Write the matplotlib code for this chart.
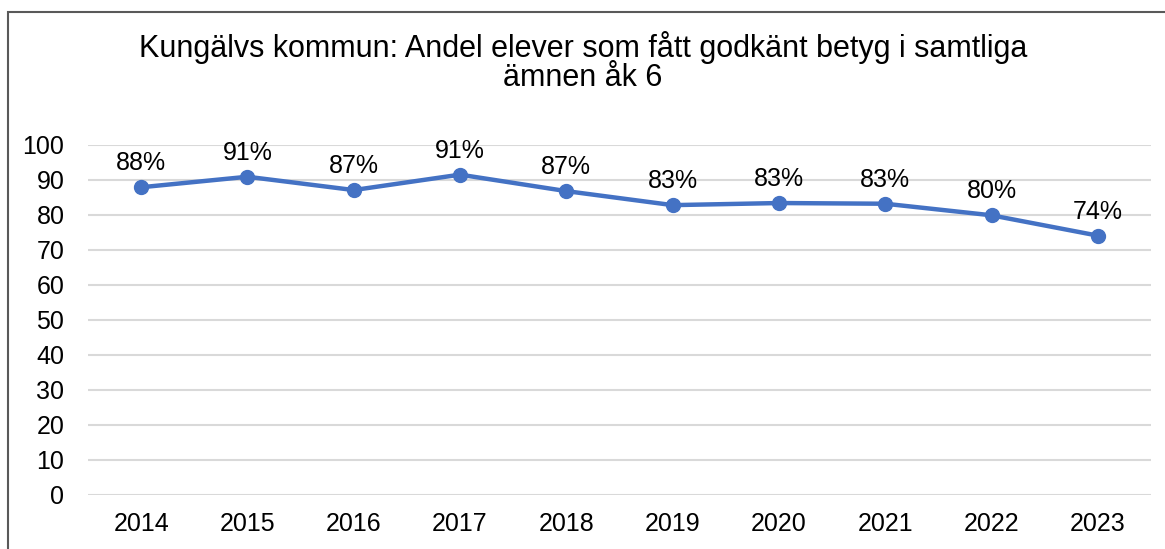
import matplotlib
matplotlib.use("Agg")
import matplotlib.pyplot as plt
from matplotlib.patches import Rectangle

plt.rcParams['font.family'] = ['Liberation Sans', 'DejaVu Sans']

years = ["2014", "2015", "2016", "2017", "2018", "2019", "2020", "2021", "2022", "2023"]
values = [87.8, 90.8, 87.0, 91.4, 86.7, 82.7, 83.3, 83.1, 79.8, 74.0]
yticks = [0, 10, 20, 30, 40, 50, 60, 70, 80, 90, 100]
title = "Kungälvs kommun: Andel elever som fått godkänt betyg i samtliga\nämnen åk 6"

W, H = 1165, 549
fig = plt.figure(figsize=(W / 100, H / 100), dpi=100)
ax = fig.add_axes([88 / W, 1 - 495 / H, (1151 - 88) / W, (495 - 144.5) / H])

x = list(range(len(years)))
ax.plot(x, values, color="#4472C4", linewidth=3.2, marker="o", markersize=10,
        solid_capstyle="round", zorder=3)
for xi, v in zip(x, values):
    ax.annotate(f"{round(v)}%", (xi, v), xytext=(0, 8.5), textcoords="offset points",
                ha="center", va="bottom", fontsize=18, color="black")

ax.set_xlim(-0.5, len(years) - 0.5)
ax.set_ylim(0, 100)
ax.set_yticks(yticks)
ax.set_xticks(x)
ax.set_xticklabels(years)
ax.tick_params(axis="both", length=0, labelsize=18, colors="black")
ax.tick_params(axis="y", pad=17)
ax.tick_params(axis="x", pad=12)
ax.grid(axis="y", color="#D9D9D9", linewidth=1.5)
ax.set_axisbelow(True)
for s in ax.spines.values():
    s.set_visible(False)

fig.text(583 / W, 1 - 62 / H, title, ha="center", va="center", fontsize=22,
         linespacing=1.0)

fig.patches.append(Rectangle((8 / W, -0.1), 1.2, 1 - 12 / H + 0.1, transform=fig.transFigure,
                             fill=False, edgecolor="#595959", linewidth=1.5))

fig.savefig("out.png", dpi=100)
